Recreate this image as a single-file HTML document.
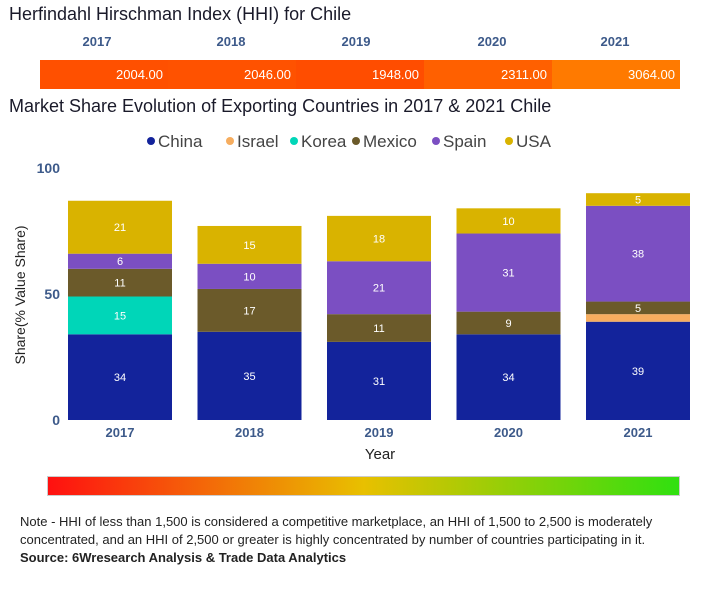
<!DOCTYPE html>
<html><head><meta charset="utf-8"><style>
body{margin:0;width:721px;height:600px;background:#fff;font-family:"Liberation Sans","DejaVu Sans",sans-serif;overflow:hidden;position:relative}
.abs{position:absolute}
.t{font-size:18px;color:#1a1a2a}
.yr{font-weight:bold;color:#3d5a8a;font-size:13px}
</style></head><body>
<div class="abs t" style="left:9px;top:4px">Herfindahl Hirschman Index (HHI) for Chile</div>
<div id="hhi"></div>
<div class="abs t" style="left:9px;top:96px">Market Share Evolution of Exporting Countries in 2017 &amp; 2021 Chile</div>
<svg id="chart" class="abs" style="left:0;top:0" width="721" height="470"></svg>
<div class="abs" style="left:47px;top:476px;width:631px;height:18px;background:linear-gradient(90deg,#ff1010,#e8c000 50%,#30e010);border:1px solid #ccc"></div>
<div class="abs" style="left:20px;top:513px;width:700px;font-size:13px;line-height:18px;color:#222">Note - HHI of less than 1,500 is considered a competitive marketplace, an HHI of 1,500 to 2,500 is moderately concentrated, and an HHI of 2,500 or greater is highly concentrated by number of countries participating in it.<br><b>Source: 6Wresearch Analysis &amp; Trade Data Analytics</b></div>
<script>
const years=["2017","2018","2019","2020","2021"];
const hhi=[2004,2046,1948,2311,3064];
const series=["China","Israel","Korea","Mexico","Spain","USA"];
const china=[34,35,31,34,39];
const israel=[0,0,0,0,3];
const korea=[15,0,0,0,0];
const mexico=[11,17,11,9,5];
const spain=[6,10,21,31,38];
const usa=[21,15,18,10,5];
const yTicks=[0,50,100];
const colors=["#13239b","#f6ad5f","#00d6b8","#6b5a2a","#7b4fc2","#d9b300"];
const vals=[china,israel,korea,mexico,spain,usa];
const NS="http://www.w3.org/2000/svg";
// HHI strip
const hs=document.getElementById('hhi');
const hcol=["#ff5000","#ff5200","#ff4d00","#ff6000","#ff7a00"];
const yrX=[97,231,356,492,615];
hhi.forEach((v,i)=>{
 const d=document.createElement('div');d.className='abs';
 
 
 d.style.cssText=`left:${40+i*128}px;top:60px;width:128px;height:29px;background:${hcol[i]};color:#fff;font-size:13px;line-height:29px;text-align:right;box-sizing:border-box;padding-right:5px`;
 d.textContent=v.toFixed(2);hs.appendChild(d);
 const y=document.createElement('div');y.className='abs yr';
 
 
 y.style.cssText=`left:${yrX[i]-20}px;width:40px;text-align:center;top:34px`;y.textContent=years[i];hs.appendChild(y);
});
// chart
const svg=document.getElementById('chart');
const y0=420,ppu=2.52;
const ys=v=>y0-v*ppu;
const xs=i=>68+i*129.5;
const bw=104;
function el(t,a,txt){const e=document.createElementNS(NS,t);for(const k in a)e.setAttribute(k,a[k]);if(txt!=null)e.textContent=txt;svg.appendChild(e);return e;}
yTicks.forEach(t=>{const e=el('text',{x:60,y:ys(t)+5,'text-anchor':'end','font-size':14,'font-weight':'bold',fill:'#3d5a8a'},t);
});
years.forEach((yr,i)=>{
 let acc=0;
 vals.forEach((s,j)=>{
  const v=s[i];if(!v)return;
  const r=el('rect',{x:xs(i),y:ys(acc+v),width:bw,height:v*ppu,fill:colors[j]});
  
  
  if(v>=5){const l=el('text',{x:xs(i)+bw/2,y:ys(acc+v/2)+4,'text-anchor':'middle','font-size':11,fill:'#fff'},v);
  }
  acc+=v;
 });
 const t=el('text',{x:xs(i)+bw/2,y:437,'text-anchor':'middle','font-size':13,'font-weight':'bold',fill:'#3d5a8a'},yr);
 
});
const xt=el('text',{x:380,y:459,'text-anchor':'middle','font-size':15,fill:'#222'},'Year');

const yt=el('text',{x:25,y:295,'text-anchor':'middle','font-size':14,fill:'#222',transform:'rotate(-90 25 295)'},'Share(% Value Share)');

// legend
const lx=[147,226,290,352,432,505];
series.forEach((s,j)=>{
 const c=el('circle',{cx:lx[j]+4,cy:141,r:4,fill:colors[j]});
 
 const t=el('text',{x:lx[j]+11,y:147,'font-size':17,fill:'#444'},s);
 
});
</script>
</body></html>
